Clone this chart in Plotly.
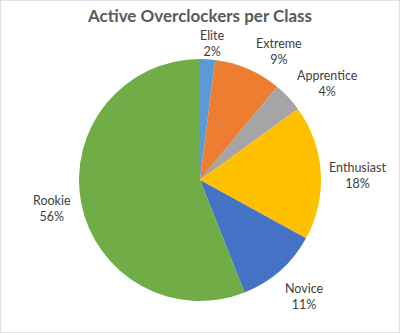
import math
import plotly.graph_objects as go

# Share of active overclockers in each class (percent)
classes = ["Elite", "Extreme", "Apprentice", "Enthusiast", "Novice", "Rookie"]
shares = [2, 9, 4, 18, 11, 56]
colors = ["#5B9BD5", "#ED7D31", "#A5A5A5", "#FFC000", "#4472C4", "#70AD47"]

# Label placement: distance of label centre from pie centre (px) and
# a small angular nudge (deg) away from the slice's mid-angle
label_dist = [137, 151, 160, 158, 156, 151]
label_nudge = [1.5, 8, 6, 2, -0.5, 0]

W, H = 400, 333
cx, cy, r = 200, 180, 121
FONT = "Lato, Open Sans, sans-serif"

fig = go.Figure(
    go.Pie(
        labels=classes,
        values=shares,
        sort=False,
        direction="clockwise",
        rotation=0,
        marker=dict(colors=colors, line=dict(width=0)),
        textinfo="none",
        showlegend=False,
        hoverinfo="label+percent",
        domain=dict(
            x=[(cx - r) / W, (cx + r) / W],
            y=[1 - (cy + r) / H, 1 - (cy - r) / H],
        ),
    )
)

# Category name and percentage beside each slice
total = sum(shares)
annotations = []
start = 0.0
for name, v, d, nudge in zip(classes, shares, label_dist, label_nudge):
    mid = (start + v / 2) / total * 360 + nudge
    start += v
    a = math.radians(mid)
    px = cx + d * math.sin(a)
    py = cy - d * math.cos(a)
    annotations.append(
        dict(
            x=px / W, y=1 - py / H, xref="paper", yref="paper",
            text=f"{name}<br>{round(v / total * 100)}%",
            showarrow=False, xanchor="center", yanchor="middle",
            align="center",
            font=dict(family=FONT, size=12.5, color="#404040"),
        )
    )

fig.update_layout(
    width=W,
    height=H,
    margin=dict(l=0, r=0, t=0, b=0),
    paper_bgcolor="white",
    title=dict(
        text="<b>Active Overclockers per Class</b>",
        x=0.5,
        xanchor="center",
        y=1 - 16 / H,
        yanchor="middle",
        font=dict(family=FONT, size=17, color="#595959"),
    ),
    annotations=annotations,
    shapes=[
        dict(
            type="rect", xref="paper", yref="paper",
            x0=0, x1=1, y0=0, y1=1,
            line=dict(color="#D9D9D9", width=1.5),
        )
    ],
)

fig.write_html("out.html")
